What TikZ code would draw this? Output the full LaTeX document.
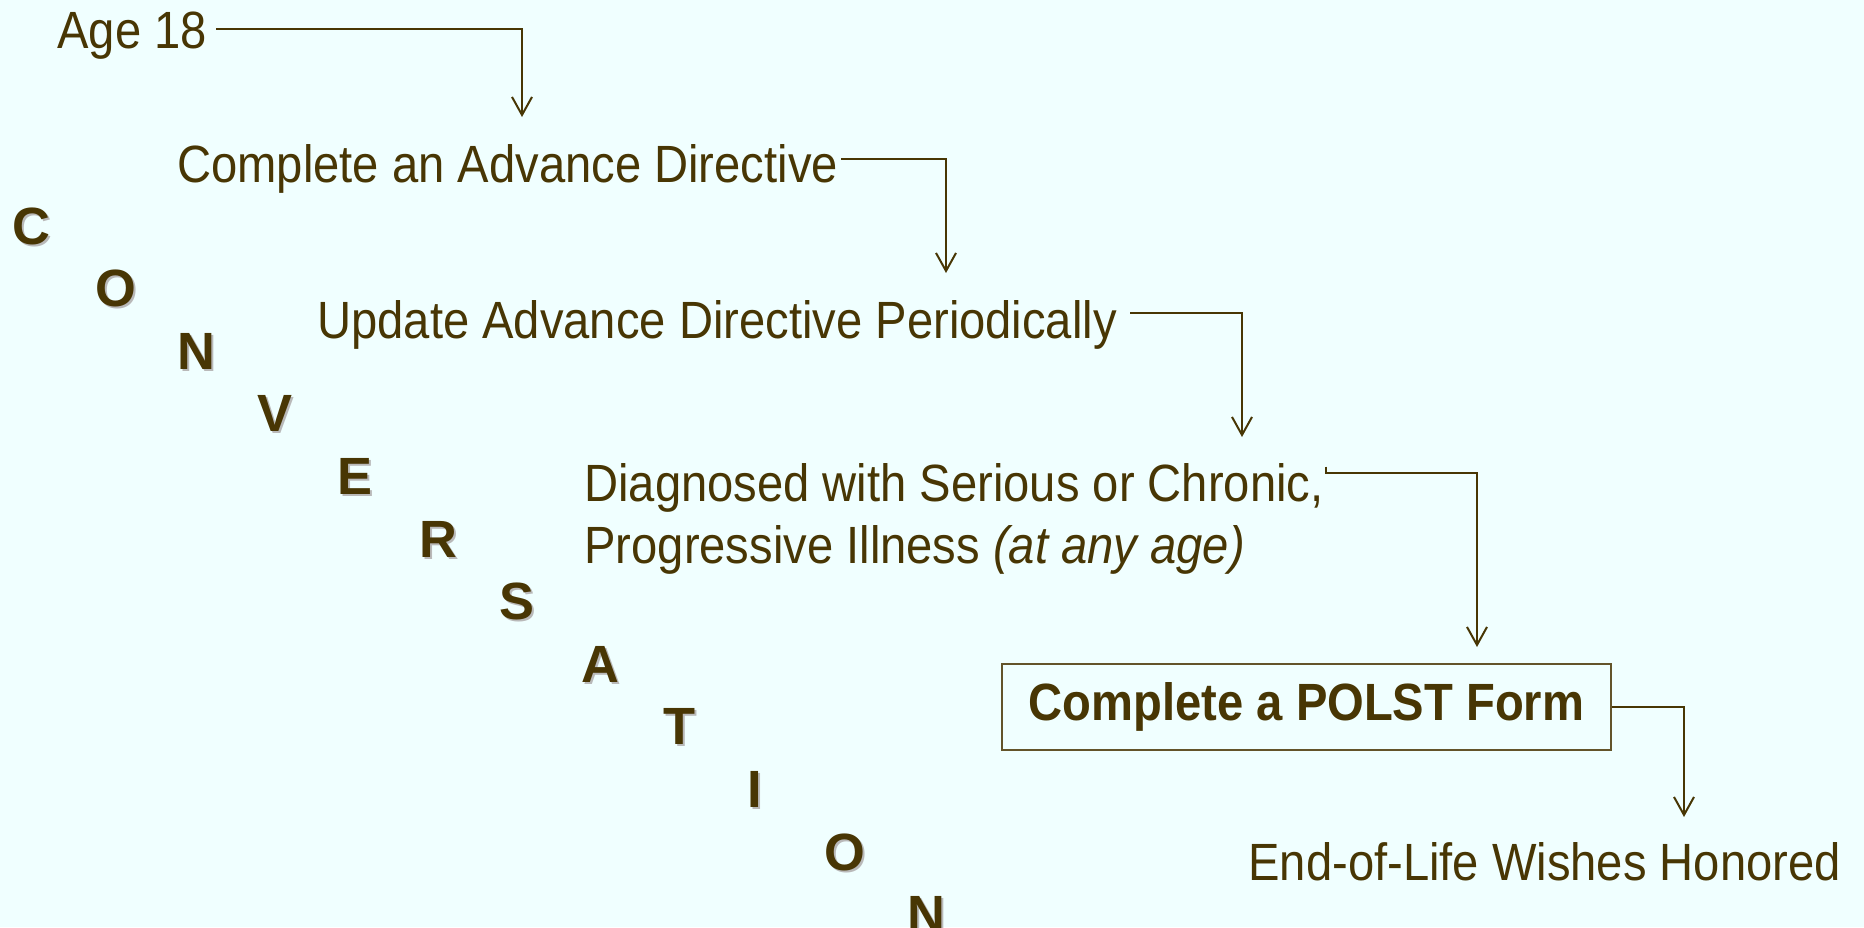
\documentclass[tikz,border=0pt]{standalone}
\usepackage{fontspec}
\setmainfont{Liberation Sans}[FakeStretch=0.9]
\newfontfamily\wordfont{Liberation Sans}
\usetikzlibrary{positioning,arrows.meta}
\definecolor{inkbrown}{RGB}{72,54,4}
\definecolor{skyback}{RGB}{240,255,255}
\definecolor{shadowgray}{RGB}{185,185,185}
\newcommand\flowsize{\fontsize{26.2pt}{31pt}\selectfont}
\newcommand\shadowed[1]{\makebox[0pt][l]{\hspace{1pt}\raisebox{-1pt}{\textcolor{shadowgray}{#1}}}#1}
\tikzset{
    stage/.style ={
        inner sep=0pt,
        text=inkbrown,
        font=\flowsize,
        text height=19pt,
        text depth=0pt,
        anchor=base west
    },
    letter/.style ={
        inner sep=0pt,
        text=inkbrown,
        font=\wordfont\flowsize\bfseries,
        text height=19pt,
        text depth=0pt
    },
    formbox/.style ={
        draw=inkbrown!85,
        line width=0.6pt,
        text=inkbrown,
        font=\flowsize\bfseries,
        minimum width=304.5pt,
        minimum height=43pt
    },
    flow/.style ={
        draw=inkbrown,
        line width=1pt,
        -{Straight Barb[length=9pt,width=10pt]}
    }
}
\begin{document}
\begin{tikzpicture}[x=0.5pt,y=-0.5pt]
    \fill[skyback] (0,0) rectangle (1864,927);
    \useasboundingbox (0,0) rectangle (1864,927);
    \node[stage] (age) at (57,48) {Age 18};
    \node[stage] (cad) at (177,182) {Complete an Advance Directive};
    \node[stage] (upd) at (317,338) {Update Advance Directive Periodically};
    \node[stage,align=left,text height={},text depth={}] (dx) at (584,563)
        {Diagnosed with Serious or Chronic,\\Progressive Illness \textit{(at any age)}};
    \node[formbox] (polst) at (1306.5,707) {Complete a POLST Form};
    \node[stage] (eol) at (1248,880) {End-of-Life Wishes Honored};
    % the word running down the left side
    \node[letter,anchor=base] (c) at (31,244) {\shadowed{C}};
    \node[letter,below=11.9pt of c,xshift=42.5pt] (o1) {\shadowed{O}};
    \node[letter,below=11.9pt of o1,xshift=40pt] (n1) {\shadowed{N}};
    \node[letter,below=11.9pt of n1,xshift=39.5pt] (v) {\shadowed{V}};
    \node[letter,below=11.9pt of v,xshift=40pt] (e) {\shadowed{E}};
    \node[letter,below=11.9pt of e,xshift=41.5pt] (r) {\shadowed{R}};
    \node[letter,below=11.9pt of r,xshift=39.5pt] (s) {\shadowed{S}};
    \node[letter,below=11.9pt of s,xshift=41.5pt] (a) {\shadowed{A}};
    \node[letter,below=11.9pt of a,xshift=39.5pt] (t) {\shadowed{T}};
    \node[letter,below=11.9pt of t,xshift=38pt] (i) {\shadowed{I}};
    \node[letter,below=11.9pt of i,xshift=45pt] (o2) {\shadowed{O}};
    \node[letter,below=11.9pt of o2,xshift=40.5pt] (n2) {\shadowed{N}};
    % arrow tips
    \coordinate (tip1) at (522,117);
    \coordinate (tip2) at (946,273);
    \coordinate (tip3) at (1242,437);
    \coordinate (tip4) at (1477,647);
    \coordinate (tip5) at (1684,817);
    \draw[flow] ([xshift=4.5pt]age.east) -| (tip1);
    \draw[flow] ([xshift=1.5pt,yshift=2pt]cad.east) -| (tip2);
    \draw[flow] ([xshift=6.5pt,yshift=3pt]upd.east) -| (tip3);
    \draw[flow] ([xshift=1pt,yshift=-2pt]dx.north east) -- ++(0,6) -| (tip4);
    \draw[flow] (polst.east) -| (tip5);
\end{tikzpicture}
\end{document}
